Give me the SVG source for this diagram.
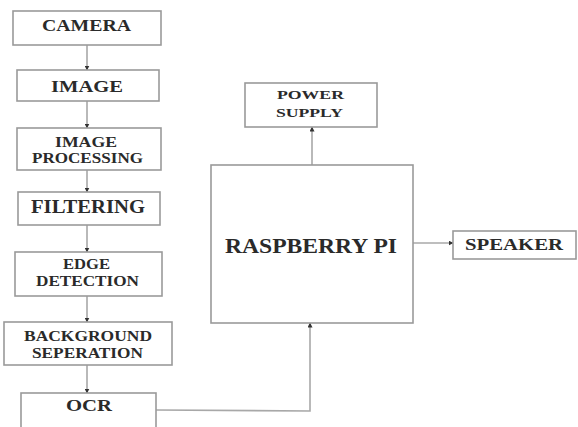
<svg xmlns="http://www.w3.org/2000/svg" width="578" height="427" viewBox="0 0 578 427">
<style>
.box{fill:#fff;stroke:#9a9a9a;stroke-width:1.6}
.t{font-family:"Liberation Serif","Times New Roman",serif;font-weight:bold;fill:#2a2a2a;text-anchor:start}
.c{fill:none;stroke:#a8a8a8;stroke-width:1.6}
</style>
<defs>
<marker id="ah" viewBox="0 0 10 10" refX="9" refY="5" markerWidth="5" markerHeight="5" orient="auto" markerUnits="userSpaceOnUse">
<path d="M0,0 L10,5 L0,10 z" fill="#333"/>
</marker>
</defs>
<rect width="578" height="427" fill="#fff"/>
<g id="connectors">
<line class="c" x1="87" y1="45" x2="87" y2="70" marker-end="url(#ah)"/>
<line class="c" x1="87" y1="101" x2="87" y2="128" marker-end="url(#ah)"/>
<line class="c" x1="87" y1="170" x2="87" y2="192" marker-end="url(#ah)"/>
<line class="c" x1="87" y1="225" x2="87" y2="252" marker-end="url(#ah)"/>
<line class="c" x1="87" y1="296" x2="87" y2="322" marker-end="url(#ah)"/>
<line class="c" x1="87" y1="365" x2="87" y2="393" marker-end="url(#ah)"/>
<line class="c" x1="312" y1="165" x2="312" y2="127" marker-end="url(#ah)"/>
<line class="c" x1="413" y1="243" x2="453" y2="243" marker-end="url(#ah)"/>
<polyline class="c" points="156,410 310,411 310,323" marker-end="url(#ah)"/>
</g>
<g id="camera"><rect class="box" x="13" y="11" width="148" height="34"/><text class="t" x="42" y="31" font-size="16" textLength="89" lengthAdjust="spacingAndGlyphs">CAMERA</text></g>
<g id="image"><rect class="box" x="17" y="70" width="142" height="31"/><text class="t" x="51" y="92" font-size="17" textLength="72" lengthAdjust="spacingAndGlyphs">IMAGE</text></g>
<g id="image-processing"><rect class="box" x="17" y="128" width="144" height="42"/><text class="t" x="55" y="147" font-size="15" textLength="62" lengthAdjust="spacingAndGlyphs">IMAGE</text><text class="t" x="32" y="163" font-size="15" textLength="111" lengthAdjust="spacingAndGlyphs">PROCESSING</text></g>
<g id="filtering"><rect class="box" x="18" y="192" width="142" height="33"/><text class="t" x="31" y="213" font-size="18" textLength="114" lengthAdjust="spacingAndGlyphs">FILTERING</text></g>
<g id="edge-detection"><rect class="box" x="15" y="252" width="147" height="44"/><text class="t" x="63" y="269" font-size="15" textLength="47" lengthAdjust="spacingAndGlyphs">EDGE</text><text class="t" x="36" y="286" font-size="15" textLength="103" lengthAdjust="spacingAndGlyphs">DETECTION</text></g>
<g id="background-separation"><rect class="box" x="4" y="322" width="168" height="43"/><text class="t" x="24" y="341" font-size="15" textLength="128" lengthAdjust="spacingAndGlyphs">BACKGROUND</text><text class="t" x="32" y="358" font-size="15" textLength="111" lengthAdjust="spacingAndGlyphs">SEPERATION</text></g>
<g id="ocr"><rect class="box" x="21" y="393" width="135" height="40"/><text class="t" x="66" y="411" font-size="17" textLength="46" lengthAdjust="spacingAndGlyphs">OCR</text></g>
<g id="power-supply"><rect class="box" x="245" y="83" width="132" height="44"/><text class="t" x="277" y="99" font-size="13" textLength="67" lengthAdjust="spacingAndGlyphs">POWER</text><text class="t" x="276" y="117" font-size="13" textLength="67" lengthAdjust="spacingAndGlyphs">SUPPLY</text></g>
<g id="raspberry-pi"><rect class="box" x="211" y="165" width="202" height="158"/><text class="t" x="225" y="253" font-size="21" textLength="172" lengthAdjust="spacingAndGlyphs">RASPBERRY PI</text></g>
<g id="speaker"><rect class="box" x="453" y="231" width="123" height="28"/><text class="t" x="465" y="250" font-size="16" textLength="98" lengthAdjust="spacingAndGlyphs">SPEAKER</text></g>
</svg>
